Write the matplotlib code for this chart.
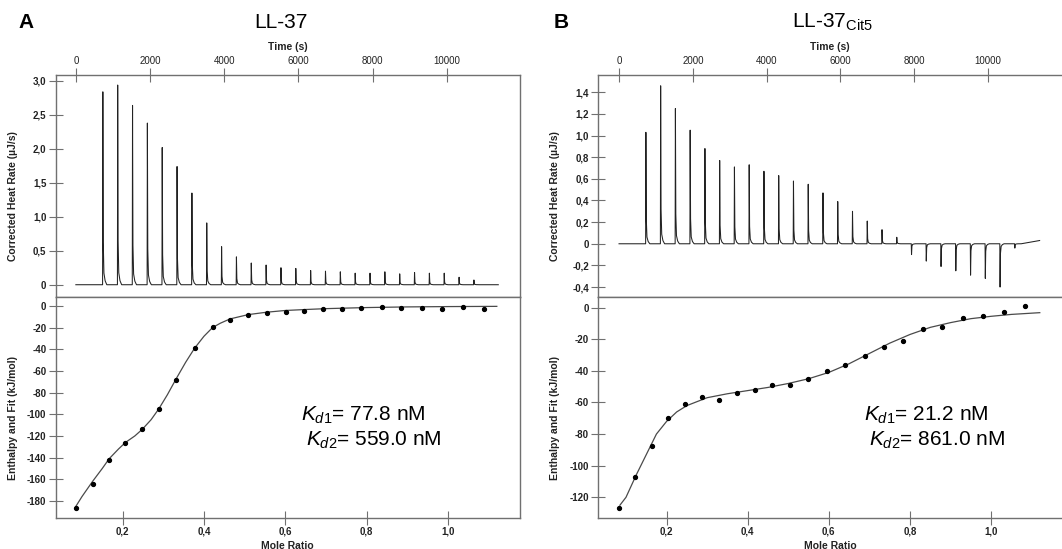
import numpy as np
import matplotlib
matplotlib.use("Agg")
import matplotlib.pyplot as plt

plt.rcParams["font.family"] = "Liberation Sans"
plt.rcParams["mathtext.fontset"] = "custom"
plt.rcParams["mathtext.rm"] = "Liberation Sans"
plt.rcParams["mathtext.it"] = "Liberation Sans:italic"

# injection times (s), same schedule for both runs
inj_times = [725, 1125, 1525, 1925, 2325, 2725, 3125, 3525, 3925, 4325, 4725, 5125, 5525,
             5925, 6325, 6725, 7125, 7525, 7925, 8325, 8725, 9125, 9525, 9925, 10325, 10725]

# peak heights of the thermograms (uJ/s)
peaks_a = [2.84, 2.94, 2.64, 2.38, 2.02, 1.74, 1.35, 0.91, 0.56, 0.41, 0.32, 0.29, 0.25,
           0.24, 0.21, 0.20, 0.19, 0.17, 0.17, 0.19, 0.16, 0.18, 0.17, 0.17, 0.11, 0.07]
peaks_b = [1.03, 1.46, 1.25, 1.05, 0.88, 0.77, 0.71, 0.73, 0.67, 0.63, 0.58, 0.55, 0.47,
           0.39, 0.30, 0.21, 0.13, 0.06, -0.10, -0.16, -0.21, -0.25, -0.29, -0.32, -0.40, -0.04]
end_a = (11385, 0.0)
end_b = (11400, 0.03)

# integrated heats (kJ/mol) vs mole ratio
ratio_a = [0.085, 0.126, 0.167, 0.207, 0.248, 0.289, 0.332, 0.377, 0.421, 0.464, 0.509, 0.554,
           0.601, 0.645, 0.692, 0.739, 0.787, 0.837, 0.885, 0.935, 0.985, 1.037, 1.089]
heat_a = [-186.8, -164.6, -142.5, -126.2, -113.5, -95.1, -68.3, -38.8, -19.1, -12.9, -8.6, -6.8,
          -5.2, -4.9, -2.8, -2.8, -1.5, -0.9, -2.2, -1.5, -2.8, -1.2, -2.5]
ratio_b = [0.083, 0.123, 0.163, 0.204, 0.245, 0.287, 0.330, 0.373, 0.417, 0.461, 0.504, 0.549,
           0.595, 0.641, 0.688, 0.735, 0.782, 0.831, 0.879, 0.930, 0.980, 1.031, 1.083]
heat_b = [-126.5, -107.3, -87.3, -69.6, -61.2, -56.7, -58.2, -54.2, -52.1, -48.7, -48.9, -44.9,
          -40.1, -36.1, -30.8, -24.7, -21.1, -13.5, -12.2, -6.5, -5.5, -2.5, 0.8]

# fitted curves
fit_xa = [0.085, 0.10, 0.126, 0.15, 0.167, 0.19, 0.207, 0.23, 0.248, 0.27, 0.289, 0.31, 0.332,
          0.355, 0.377, 0.40, 0.421, 0.44, 0.464, 0.509, 0.554, 0.60, 0.65, 0.70, 0.80, 0.90, 1.0, 1.12]
fit_ya = [-185, -176, -162, -150, -141, -132, -126, -120, -114, -105, -95, -82, -67,
          -52, -39, -28, -20, -16, -12, -8, -5.8, -4.2, -3.3, -2.5, -1.5, -0.9, -0.6, -0.4]
fit_xb = [0.085, 0.10, 0.125, 0.15, 0.175, 0.20, 0.225, 0.25, 0.30, 0.35, 0.40, 0.45, 0.50,
          0.55, 0.60, 0.65, 0.70, 0.75, 0.80, 0.85, 0.90, 0.95, 1.0, 1.05, 1.12]
fit_yb = [-125, -120, -106, -93, -80, -72, -66, -62, -57, -54.5, -52.5, -50.5, -48,
          -45, -41, -35.5, -29, -22.5, -17, -12.5, -9.5, -7, -5.5, -4.3, -3.2]

time_ticks = [0, 2000, 4000, 6000, 8000, 10000]
ratio_ticks = [0.2, 0.4, 0.6, 0.8, 1.0]
rate_ticks_a = [0, 0.5, 1.0, 1.5, 2.0, 2.5, 3.0]
rate_ticks_b = [-0.4, -0.2, 0, 0.2, 0.4, 0.6, 0.8, 1.0, 1.2, 1.4]
heat_ticks_a = [0, -20, -40, -60, -80, -100, -120, -140, -160, -180]
heat_ticks_b = [0, -20, -40, -60, -80, -100, -120]

kd_a = ["77.8", "559.0"]
kd_b = ["21.2", "861.0"]

SPINE = "#707070"
INK = "#222222"


def comma(v):
    if abs(v) < 1e-9:
        return "0"
    if float(v).is_integer() and abs(v) >= 10:
        return str(int(v))
    return ("%.1f" % v).replace(".", ",")


def thermogram(times, heights, end):
    # each injection drawn as a sharp spike with a short tail back to baseline
    t = [0.0]
    y = [0.0]
    for ti, h in zip(times, heights):
        t += [ti - 4, ti + 3, ti + 14, ti + 32, ti + 65, ti + 110]
        y += [0.0, h, 0.22 * h, 0.06 * h, 0.02 * h, 0.0]
    t.append(end[0] - 500)
    y.append(0.0)
    t.append(end[0])
    y.append(end[1])
    return t, y


def style(ax, top):
    for s in ax.spines.values():
        s.set_color(SPINE)
        s.set_linewidth(1.0)
    ax.tick_params(direction="inout", length=10, width=0.8, color=SPINE,
                   labelsize=7, labelcolor=INK)
    for lab in ax.get_xticklabels() + ax.get_yticklabels():
        lab.set_fontweight("bold")
    ax.tick_params(axis="y", pad=1.5)
    if top:
        ax.xaxis.tick_top()
        ax.xaxis.set_label_position("top")
        ax.tick_params(axis="x", pad=1.5)
    else:
        ax.tick_params(axis="x", pad=1)


fig = plt.figure(figsize=(10.62, 5.49), dpi=100)

W = 464.5 / 1062
H = 221.7 / 549
panels = [
    (55.5 / 1062, peaks_a, end_a, (-548, 11970), (-0.176, 3.088), rate_ticks_a,
     ratio_a, heat_a, fit_xa, fit_ya, (0.035, 1.177), (-196, 8.6), heat_ticks_a, kd_a),
    (598 / 1062, peaks_b, end_b, (-570, 12020), (-0.489, 1.56), rate_ticks_b,
     ratio_b, heat_b, fit_xb, fit_yb, (0.031, 1.176), (-133.3, 6.96), heat_ticks_b, kd_b),
]

for i, (left, peaks, end, txl, tyl, rticks, rx, hy, fx, fy, bxl, byl, hticks, kd) in enumerate(panels):
    ax1 = fig.add_axes([left, 0.4596, W, H])
    ax2 = fig.add_axes([left, 0.0559, W, H])

    t, y = thermogram(inj_times, peaks, end)
    ax1.plot(t, y, color=INK, lw=0.75)
    ax1.set_xlim(*txl)
    ax1.set_ylim(*tyl)
    ax1.set_xticks(time_ticks)
    ax1.set_xticklabels([str(v) for v in time_ticks])
    ax1.set_yticks(rticks)
    ax1.set_yticklabels([comma(v) for v in rticks])
    ax1.set_xlabel("Time (s)", fontsize=7.5, fontweight="bold", color=INK, labelpad=4)
    ax1.set_ylabel("Corrected Heat Rate (µJ/s)", fontsize=7.5, fontweight="bold", color=INK)
    ax1.yaxis.set_label_coords(-0.081, 0.454)
    style(ax1, True)

    ax2.plot(fx, fy, color="#4a4a4a", lw=0.9)
    ax2.plot(rx, hy, "o", color="black", ms=2.8)
    ax2.set_xlim(*bxl)
    ax2.set_ylim(*byl)
    ax2.set_xticks(ratio_ticks)
    ax2.set_xticklabels([comma(v) for v in ratio_ticks])
    ax2.set_yticks(hticks)
    ax2.set_yticklabels([comma(v) for v in hticks])
    ax2.set_xlabel("Mole Ratio", fontsize=7.5, fontweight="bold", color=INK, labelpad=3)
    ax2.set_ylabel("Enthalpy and Fit (kJ/mol)", fontsize=7.5, fontweight="bold", color=INK)
    ax2.yaxis.set_label_coords(-0.081, 0.4526)
    style(ax2, False)

    kx = 0.5285 if i == 0 else 0.5727
    ax2.text(kx, 0.466, r"$K_{\mathit{d1}}$" + "= %s nM" % kd[0], transform=ax2.transAxes,
             fontsize=15, color="black", va="center", ha="left")
    ax2.text(kx + 0.011, 0.350, r"$K_{\mathit{d2}}$" + "= %s nM" % kd[1], transform=ax2.transAxes,
             fontsize=15, color="black", va="center", ha="left")

    if i == 1:
        ax1.spines["right"].set_visible(False)
        ax2.spines["right"].set_visible(False)

fig.text(26 / 1062, 1 - 22 / 549, "A", fontsize=15, fontweight="bold", ha="center", va="center")
fig.text(561 / 1062, 1 - 22 / 549, "B", fontsize=15, fontweight="bold", ha="center", va="center")
fig.text(254.5 / 1062, 1 - 22 / 549, "LL-37", fontsize=15, ha="left", va="center")
fig.text(792 / 1062, 1 - 22 / 549, r"LL-37$_{\mathrm{Cit5}}$", fontsize=15, ha="left", va="center")

fig.savefig("out.png", dpi=100, facecolor="white")
